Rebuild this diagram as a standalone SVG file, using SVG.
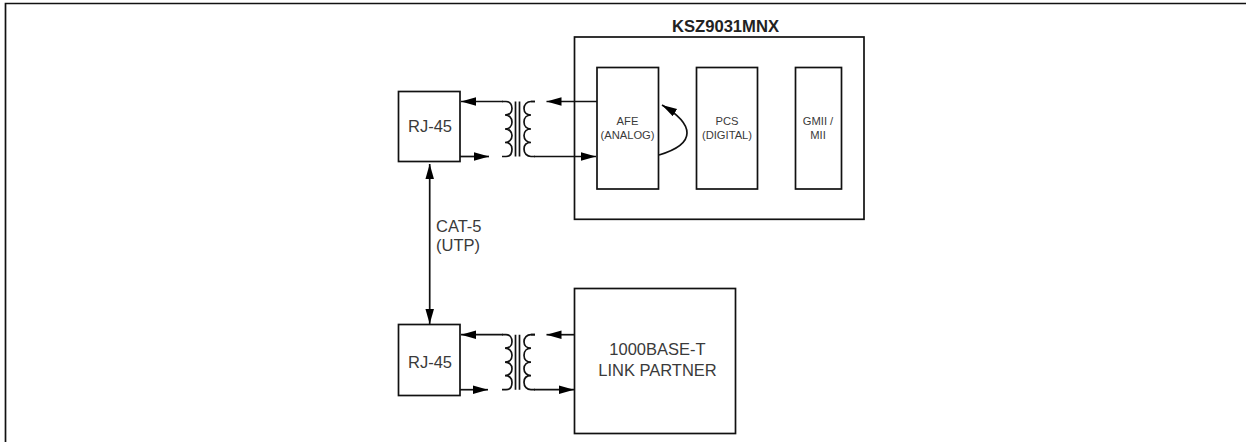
<svg xmlns="http://www.w3.org/2000/svg" width="1246" height="442" viewBox="0 0 1246 442">
<defs>
<marker id="ah" markerUnits="userSpaceOnUse" markerWidth="16" markerHeight="10" refX="15" refY="4.25" orient="auto-start-reverse"><path d="M0,0 L15,4.25 L0,8.5 Z" fill="#000"/></marker>
<g id="xf">
<path d="M-7,0 H-3 C1,0 3,3 3,7 C3,11 0,13.5 -4,13.5 C0,13.5 3,16 3,20.5 C3,25 0,27.5 -4,27.5 C0,27.5 3,30 3,34 C3,38 0,41 -4,41 C0,41 3,43 3,47.5 C3,52 1,55 -3,55 H-7"/>
<path d="M22,0 H26 M22,55 H26"/>
<path d="M26,0 H22 C18,0 15,3 15,7 C15,11 18,13.5 22,13.5 C18,13.5 15,16 15,20.5 C15,25 18,27.5 22,27.5 C18,27.5 15,30 15,34 C15,38 18,41 22,41 C18,41 15,43 15,47.5 C15,52 18,55 22,55"/>
<path d="M6.5,0 V55 M10.5,0 V55"/>
</g>
</defs>
<style>
.b{fill:#fff;stroke:#111;stroke-width:1.7}
.l{fill:none;stroke:#111;stroke-width:1.7}
text{font-family:"Liberation Sans",Arial,sans-serif;fill:#3a3a3a;text-anchor:middle}
.s{font-size:11.2px}
.m{font-size:16.5px}
</style>
<rect width="1246" height="442" fill="#fff"/>
<path class="l" d="M5.5,442 V3.5 H1246"/>
<g id="phy"><rect class="b" x="574.5" y="37" width="289.5" height="182.3"/><text x="725.5" y="31.5" font-size="16.6" font-weight="700" style="fill:#222">KSZ9031MNX</text></g>
<g id="afe"><rect class="b" x="597" y="67.5" width="61.5" height="121.5"/><text class="s" x="627.5" y="125">AFE</text><text class="s" x="627.5" y="139">(ANALOG)</text></g>
<g id="pcs"><rect class="b" x="696.5" y="67.5" width="61" height="121.5"/><text class="s" x="727" y="125">PCS</text><text class="s" x="727" y="139">(DIGITAL)</text></g>
<g id="gmii"><rect class="b" x="795.5" y="67.5" width="46" height="121.5"/><text class="s" x="818" y="125">GMII /</text><text class="s" x="818" y="139">MII</text></g>
<g id="rj45a"><rect class="b" x="398.5" y="91.5" width="61.5" height="70"/><text class="m" x="430" y="132">RJ-45</text></g>
<g id="rj45b"><rect class="b" x="398.5" y="324.5" width="61.5" height="71"/><text class="m" x="430" y="368">RJ-45</text></g>
<g id="partner"><rect class="b" x="574.5" y="288.5" width="161" height="145"/><text class="m" x="657.5" y="355">1000BASE-T</text><text class="m" x="657.5" y="376">LINK PARTNER</text></g>
<g id="connectors">
<use href="#xf" class="l" x="509" y="101.5"/>
<use href="#xf" class="l" x="509" y="334.7"/>
<path class="l" d="M503,101.5 H461" marker-end="url(#ah)"/>
<path class="l" d="M460,156.5 H489" marker-end="url(#ah)"/>
<path class="l" d="M597,101.5 H546.5" marker-end="url(#ah)"/>
<path class="l" d="M534,156.5 H596" marker-end="url(#ah)"/>
<path class="l" d="M574,334.7 H546.5" marker-end="url(#ah)"/>
<path class="l" d="M534,389.7 H574" marker-end="url(#ah)"/>
<path class="l" d="M503,334.7 H461" marker-end="url(#ah)"/>
<path class="l" d="M460,389.7 H488" marker-end="url(#ah)"/>
<path class="l" d="M429.7,164 V324" marker-start="url(#ah)" marker-end="url(#ah)"/>
<path class="l" d="M659,155 C679,149 687,142 687,133 C687,125 679,115 662,105" marker-end="url(#ah)"/>
</g>
<text class="m" x="436" y="231.5" style="text-anchor:start">CAT-5</text>
<text class="m" x="436" y="250.5" style="text-anchor:start">(UTP)</text>
</svg>
